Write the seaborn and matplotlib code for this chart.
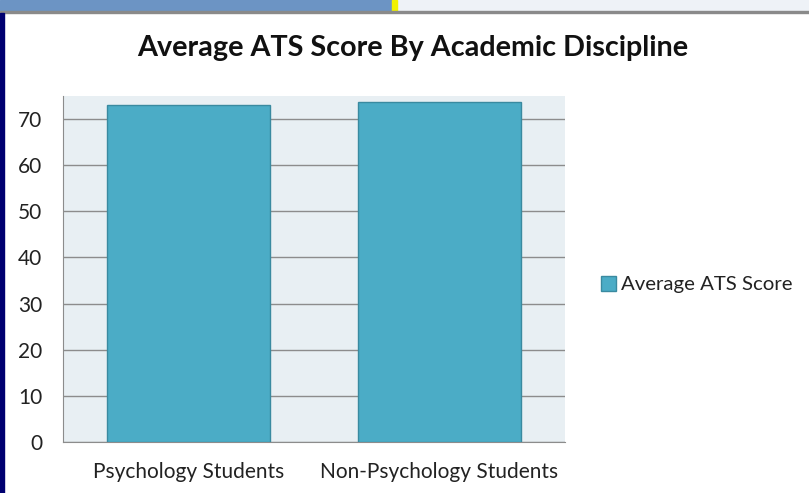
import matplotlib
matplotlib.use("Agg")
import matplotlib.pyplot as plt
import matplotlib.patches as mpatches
import seaborn as sns

categories = ["Psychology Students", "Non-Psychology Students"]
scores = [73.0, 73.8]
series_name = "Average ATS Score"
yticks = [0, 10, 20, 30, 40, 50, 60, 70]

bar_color = "#4BACC6"
edge_color = "#3A8AA0"

sns.set_style("white")
plt.rcParams["font.family"] = ["Lato", "DejaVu Sans"]

fig = plt.figure(figsize=(8.09, 4.93), dpi=100)
ax = fig.add_axes([63 / 809, 1 - 442 / 493, 502 / 809, 346 / 493])
ax.set_facecolor("#E8EFF3")

sns.barplot(x=categories, y=scores, color=bar_color, edgecolor=edge_color,
            linewidth=1, width=0.65, saturation=1, ax=ax, label=series_name, zorder=3)

ax.set_ylim(0, 75)
ax.set_xlim(-0.5, 1.5)
ax.set_yticks(yticks)
ax.yaxis.grid(True, color="#8C8C8C", linewidth=1, zorder=0)
ax.set_axisbelow(True)
ax.tick_params(axis="both", length=0, labelsize=15, colors="#222222")
ax.tick_params(axis="y", pad=15)
ax.tick_params(axis="x", pad=14.5)
for side in ["top", "right"]:
    ax.spines[side].set_visible(False)
ax.spines["left"].set_color("#8C8C8C")
ax.spines["bottom"].set_color("#8C8C8C")

fig.text(0.5105, 0.902, "Average ATS Score By Academic Discipline", ha="center",
         va="center", fontsize=20.7, fontweight="bold", color="#111111")

ax.legend(loc="center left", bbox_to_anchor=(1.035, 0.455), frameon=False,
          fontsize=14.7, handlelength=0.75, handleheight=0.75, handletextpad=0.25,
          labelcolor="#222222")

# window chrome around the screenshot
fig.patches.append(mpatches.Rectangle((0, 1 - 11 / 493), 392 / 809, 11 / 493,
                   transform=fig.transFigure, color="#6C94C4", zorder=0))
fig.patches.append(mpatches.Rectangle((398 / 809, 1 - 11 / 493), 411 / 809, 11 / 493,
                   transform=fig.transFigure, color="#EEF2F7", zorder=0))
fig.patches.append(mpatches.Rectangle((392 / 809, 1 - 11 / 493), 5 / 809, 11 / 493,
                   transform=fig.transFigure, color="#F2F200", zorder=0))
fig.patches.append(mpatches.Rectangle((0, 1 - 13 / 493), 1, 2 / 493,
                   transform=fig.transFigure, color="#8A8A8A", zorder=0))
fig.patches.append(mpatches.Rectangle((0, 0), 4 / 809, 1 - 13 / 493,
                   transform=fig.transFigure, color="#000070", zorder=0))

fig.savefig("out.png", dpi=100)
